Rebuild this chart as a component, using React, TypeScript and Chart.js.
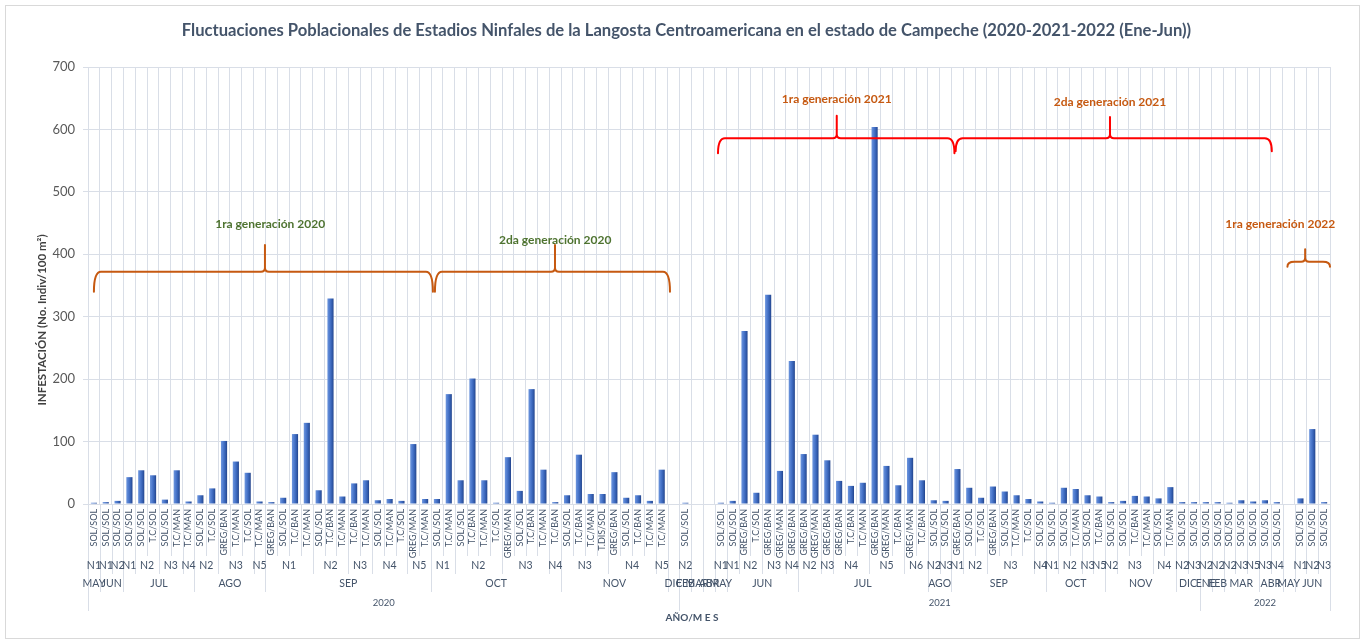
import React, { useEffect, useRef } from 'react';
import { Chart, registerables } from 'chart.js';

Chart.register(...registerables);

// ---------- DATA ----------
const stages = [
  'SOL/SOL', 'SOL/SOL', 'SOL/SOL',
  'SOL/SOL', 'SOL/SOL', 'T.C/SOL', 'SOL/SOL', 'T.C/MAN', 'T.C/MAN',
  'SOL/SOL', 'T.C/SOL', 'GREG/BAN', 'T.C/MAN', 'T.C/SOL', 'T.C/MAN',
  'GREG/BAN', 'SOL/SOL', 'T.C/BAN', 'T.C/MAN', 'SOL/SOL', 'T.C/BAN', 'T.C/MAN', 'T.C/BAN', 'T.C/MAN', 'SOL/SOL', 'T.C/MAN', 'T.C/SOL', 'GREG/MAN', 'T.C/MAN',
  'SOL/SOL', 'T.C/MAN', 'SOL/SOL', 'T.C/BAN', 'T.C/MAN', 'T.C/SOL', 'GREG/MAN', 'SOL/SOL', 'T.C/BAN', 'T.C/MAN', 'T.C/BAN',
  'SOL/SOL', 'T.C/BAN', 'T.C/MAN', 'T.DIS/SOL', 'GREG/BAN', 'SOL/SOL', 'T.C/BAN', 'T.C/MAN', 'T.C/MAN',
  '',
  'SOL/SOL', '', '', 'SOL/SOL',
  'SOL/SOL', 'GREG/BAN', 'T.C/SOL', 'GREG/BAN', 'GREG/MAN', 'GREG/BAN',
  'GREG/BAN', 'GREG/MAN', 'GREG/BAN', 'GREG/BAN', 'T.C/BAN', 'T.C/MAN', 'GREG/BAN', 'GREG/MAN', 'T.C/BAN', 'GREG/MAN', 'T.C/BAN',
  'SOL/SOL', 'SOL/SOL',
  'GREG/BAN', 'SOL/SOL', 'T.C/SOL', 'GREG/BAN', 'SOL/SOL', 'T.C/MAN', 'T.C/SOL', 'SOL/SOL',
  'SOL/SOL', 'SOL/SOL', 'T.C/MAN', 'SOL/SOL', 'T.C/BAN',
  'SOL/SOL', 'SOL/SOL', 'T.C/BAN', 'T.C/MAN', 'SOL/SOL', 'T.C/MAN',
  'SOL/SOL', 'SOL/SOL',
  'SOL/SOL', 'SOL/SOL', 'SOL/SOL', 'SOL/SOL', 'SOL/SOL', 'SOL/SOL', 'SOL/SOL', '', 'SOL/SOL', 'SOL/SOL', 'SOL/SOL',
];

const nLevels = [
  'N1', 'N1', 'N2',
  'N1', 'N2', 'N2', 'N3', 'N3', 'N4',
  'N2', 'N2', 'N3', 'N3', 'N3', 'N5',
  'N1', 'N1', 'N1', 'N1', 'N2', 'N2', 'N2', 'N3', 'N3', 'N4', 'N4', 'N4', 'N5', 'N5',
  'N1', 'N1', 'N2', 'N2', 'N2', 'N2', 'N3', 'N3', 'N3', 'N3', 'N4',
  'N3', 'N3', 'N3', 'N3', 'N4', 'N4', 'N4', 'N4', 'N5',
  '',
  'N2', '', '', 'N1',
  'N1', 'N2', 'N2', 'N3', 'N3', 'N4',
  'N2', 'N2', 'N3', 'N4', 'N4', 'N4', 'N5', 'N5', 'N5', 'N6', 'N6',
  'N2', 'N3',
  'N1', 'N2', 'N2', 'N3', 'N3', 'N3', 'N3', 'N4',
  'N1', 'N2', 'N2', 'N3', 'N5',
  'N2', 'N3', 'N3', 'N3', 'N4', 'N4',
  'N2', 'N3',
  'N2', 'N2', 'N2', 'N3', 'N5', 'N3', 'N4', '', 'N1', 'N2', 'N3',
];

const months = [
  'MAY', 'JUN', 'JUN',
  'JUL', 'JUL', 'JUL', 'JUL', 'JUL', 'JUL',
  'AGO', 'AGO', 'AGO', 'AGO', 'AGO', 'AGO',
  'SEP', 'SEP', 'SEP', 'SEP', 'SEP', 'SEP', 'SEP', 'SEP', 'SEP', 'SEP', 'SEP', 'SEP', 'SEP', 'SEP',
  'OCT', 'OCT', 'OCT', 'OCT', 'OCT', 'OCT', 'OCT', 'OCT', 'OCT', 'OCT', 'OCT',
  'NOV', 'NOV', 'NOV', 'NOV', 'NOV', 'NOV', 'NOV', 'NOV', 'NOV',
  'DIC',
  'FEB', 'MAR', 'ABR', 'MAY',
  'JUN', 'JUN', 'JUN', 'JUN', 'JUN', 'JUN',
  'JUL', 'JUL', 'JUL', 'JUL', 'JUL', 'JUL', 'JUL', 'JUL', 'JUL', 'JUL', 'JUL',
  'AGO', 'AGO',
  'SEP', 'SEP', 'SEP', 'SEP', 'SEP', 'SEP', 'SEP', 'SEP',
  'OCT', 'OCT', 'OCT', 'OCT', 'OCT',
  'NOV', 'NOV', 'NOV', 'NOV', 'NOV', 'NOV',
  'DIC', 'DIC',
  'ENE', 'FEB', 'MAR', 'MAR', 'MAR', 'ABR', 'ABR', 'MAY', 'JUN', 'JUN', 'JUN',
];

const years = [
  '2020', '2020', '2020', '2020', '2020', '2020', '2020', '2020', '2020', '2020',
  '2020', '2020', '2020', '2020', '2020', '2020', '2020', '2020', '2020', '2020',
  '2020', '2020', '2020', '2020', '2020', '2020', '2020', '2020', '2020', '2020',
  '2020', '2020', '2020', '2020', '2020', '2020', '2020', '2020', '2020', '2020',
  '2020', '2020', '2020', '2020', '2020', '2020', '2020', '2020', '2020', '2020',
  '2021', '2021', '2021', '2021', '2021', '2021', '2021', '2021', '2021', '2021',
  '2021', '2021', '2021', '2021', '2021', '2021', '2021', '2021', '2021', '2021',
  '2021', '2021', '2021', '2021', '2021', '2021', '2021', '2021', '2021', '2021',
  '2021', '2021', '2021', '2021', '2021', '2021', '2021', '2021', '2021', '2021',
  '2021', '2021', '2021', '2021',
  '2022', '2022', '2022', '2022', '2022', '2022', '2022', '2022', '2022', '2022', '2022',
];

const infestation = [
  2, 3, 5,
  43, 54, 46, 7, 54, 4,
  14, 25, 101, 68, 50, 4,
  3, 10, 112, 130, 22, 329, 12, 33, 38, 6, 8, 5, 96, 8,
  8, 176, 38, 201, 38, 2, 75, 21, 184, 55, 3,
  14, 79, 16, 16, 51, 10, 14, 5, 55,
  null,
  2, null, null, 2,
  5, 277, 18, 335, 53, 229,
  80, 111, 70, 37, 29, 34, 604, 61, 30, 74, 38,
  6, 5,
  56, 26, 10, 28, 20, 14, 8, 4,
  2, 26, 24, 14, 12,
  3, 5, 13, 12, 9, 27,
  3, 3,
  3, 3, 2, 6, 4, 6, 3, null, 9, 120, 3,
];

const yTicks = [0, 100, 200, 300, 400, 500, 600, 700];

const TITLE = 'Fluctuaciones Poblacionales de Estadios Ninfales de la Langosta Centroamericana en el estado de Campeche (2020-2021-2022 (Ene-Jun))';
const Y_TITLE = 'INFESTACIÓN (No. Indiv/100 m²)';
const X_TITLE = 'AÑO/M E S';

// ---------- STYLE / ANNOTATIONS ----------
const FONT = 'Lato, "Open Sans", sans-serif';
const GRID = '#D9DEE7';
const TEXT = '#44546A';
const ORANGE = '#C65911';
const RED = '#FF0000';
const GREEN = '#4E7330';

// braces in data space: category index range, tip index, baseline / end / tip values
const braces = [
  { from: 0, to: 28.66, tip: 14.46, base: 372, end: 340, top: 415, color: ORANGE },
  { from: 28.83, to: 48.7, tip: 38.98, base: 372, end: 340, top: 415, color: ORANGE },
  { from: 52.76, to: 72.75, tip: 62.8, base: 586, end: 562, top: 622, color: RED },
  { from: 72.85, to: 99.58, tip: 85.9, base: 586, end: 565, top: 620, color: RED },
  { from: 100.9, to: 104.5, tip: 102.4, base: 388, end: 380, top: 408, color: ORANGE },
];

const notes = [
  { text: '1ra generación 2020', at: 14.9, value: 449, color: GREEN },
  { text: '2da generación 2020', at: 39.0, value: 423, color: GREEN },
  { text: '1ra generación 2021', at: 62.8, value: 649, color: ORANGE },
  { text: '2da generación 2021', at: 85.9, value: 643, color: ORANGE },
  { text: '1ra generación 2022', at: 100.3, value: 449, color: ORANGE },
];

const decorPlugin = {
  id: 'decor',
  beforeDraw(chart: any) {
    const { ctx, width, height } = chart;
    ctx.save();
    ctx.fillStyle = '#ffffff';
    ctx.fillRect(0, 0, width, height);
    ctx.strokeStyle = '#D9D9D9';
    ctx.lineWidth = 1;
    ctx.strokeRect(5.5, 5.5, width - 11, height - 11);
    ctx.restore();
  },
  afterDatasetsDraw(chart: any) {
    const { ctx, scales } = chart;
    const x = scales.x;
    const y = scales.y;
    ctx.save();
    ctx.lineWidth = 2;
    ctx.lineJoin = 'round';
    ctx.lineCap = 'round';
    braces.forEach((b) => {
      const x0 = x.getPixelForValue(b.from);
      const x1 = x.getPixelForValue(b.to);
      const xt = x.getPixelForValue(b.tip);
      const yb = y.getPixelForValue(b.base);
      const ye = y.getPixelForValue(b.end);
      const yt = y.getPixelForValue(b.top);
      const r = Math.min(7, (x1 - x0) / 4);
      const r2 = 4;
      ctx.strokeStyle = b.color;
      ctx.beginPath();
      ctx.moveTo(x0, ye);
      ctx.quadraticCurveTo(x0, yb, x0 + r, yb);
      ctx.lineTo(xt - r2, yb);
      ctx.quadraticCurveTo(xt, yb, xt, yb - r2);
      ctx.lineTo(xt, yt);
      ctx.moveTo(xt, yb - r2);
      ctx.quadraticCurveTo(xt, yb, xt + r2, yb);
      ctx.lineTo(x1 - r, yb);
      ctx.quadraticCurveTo(x1, yb, x1, ye);
      ctx.stroke();
    });
    ctx.font = `bold 12px ${FONT}`;
    ctx.textAlign = 'center';
    ctx.textBaseline = 'middle';
    notes.forEach((n) => {
      ctx.fillStyle = n.color;
      ctx.fillText(n.text, x.getPixelForValue(n.at), y.getPixelForValue(n.value));
    });
    ctx.restore();
  },
  afterDraw(chart: any) {
    const { ctx, scales, chartArea, width } = chart;
    const x = scales.x;
    const n = stages.length;
    const edge = (i: number) => x.getPixelForValue(i - 0.5);
    const base = chartArea.bottom;
    const catBottom = base + 52;
    const nBottom = base + 70;
    const monthBottom = base + 88;
    const yearBottom = base + 107;

    ctx.save();
    ctx.strokeStyle = GRID;
    ctx.lineWidth = 1;
    for (let i = 0; i <= n; i++) {
      let bottom = catBottom;
      if (i === 0 || i === n || years[i] !== years[i - 1]) bottom = yearBottom;
      else if (months[i] !== months[i - 1]) bottom = monthBottom;
      else if (nLevels[i] !== nLevels[i - 1]) bottom = nBottom;
      const px = Math.round(edge(i)) + 0.5;
      ctx.beginPath();
      ctx.moveTo(px, base);
      ctx.lineTo(px, bottom);
      ctx.stroke();
    }

    const runs = (key: (i: number) => string) => {
      const out: [number, number][] = [];
      let start = 0;
      for (let i = 1; i <= n; i++) {
        if (i === n || key(i) !== key(start)) {
          out.push([start, i - 1]);
          start = i;
        }
      }
      return out;
    };
    const drawRow = (labels: string[], key: (i: number) => string, yPix: number, font: string) => {
      ctx.font = font;
      ctx.fillStyle = TEXT;
      ctx.textAlign = 'center';
      ctx.textBaseline = 'middle';
      runs(key).forEach(([a, b]) => {
        const label = labels[a];
        if (!label) return;
        ctx.fillText(label, (edge(a) + edge(b + 1)) / 2, yPix);
      });
    };
    drawRow(nLevels, (i) => `${years[i]}|${months[i]}|${nLevels[i]}`, base + 62, `10.5px ${FONT}`);
    drawRow(months, (i) => `${years[i]}|${months[i]}`, base + 80, `10.5px ${FONT}`);
    drawRow(years, (i) => years[i], base + 99, `9.5px ${FONT}`);

    // axis titles
    ctx.fillStyle = TEXT;
    ctx.font = `bold 10px ${FONT}`;
    ctx.fillText(X_TITLE, 692, base + 114);

    ctx.save();
    ctx.translate(42, 320);
    ctx.rotate(-Math.PI / 2);
    ctx.font = `bold 11.5px ${FONT}`;
    ctx.fillStyle = '#404040';
    ctx.fillText(Y_TITLE, 0, 0);
    ctx.restore();

    // chart title
    ctx.font = `bold 16.6px ${FONT}`;
    ctx.fillStyle = TEXT;
    ctx.fillText(TITLE, width / 2 + 4, 31);
    ctx.restore();
  },
};

export default function App() {
  const canvasRef = useRef<HTMLCanvasElement | null>(null);

  useEffect(() => {
    if (!canvasRef.current) return;
    const chart = new Chart(canvasRef.current, {
      type: 'bar',
      data: {
        labels: stages,
        datasets: [
          {
            label: 'Infestación',
            data: infestation,
            barPercentage: 0.52,
            categoryPercentage: 1,
            backgroundColor: (c: any) => {
              const ch = c.chart;
              const xs = ch.scales && ch.scales.x;
              if (!xs || c.dataIndex === undefined) return '#4472C4';
              const cx = xs.getPixelForValue(c.dataIndex);
              const w = Math.abs(xs.getPixelForValue(1) - xs.getPixelForValue(0)) * 0.52;
              if (!isFinite(cx) || !isFinite(w) || w <= 0) return '#4472C4';
              const g = ch.ctx.createLinearGradient(cx - w / 2, 0, cx + w / 2, 0);
              g.addColorStop(0, '#6D96DE');
              g.addColorStop(0.45, '#4673C9');
              g.addColorStop(0.8, '#2F58A8');
              g.addColorStop(1, '#22428A');
              return g;
            },
            borderWidth: 0,
          },
        ],
      },
      options: {
        animation: false,
        responsive: true,
        maintainAspectRatio: false,
        layout: { padding: { top: 67, left: 10, right: 35, bottom: 10 } },
        plugins: {
          legend: { display: false },
          tooltip: { enabled: false },
          title: { display: false },
        },
        scales: {
          x: {
            type: 'category',
            offset: true,
            grid: { display: true, color: GRID, drawTicks: false, offset: true },
            border: { display: false },
            ticks: {
              autoSkip: false,
              minRotation: 90,
              maxRotation: 90,
              padding: 5,
              color: TEXT,
              font: { family: FONT, size: 9 },
              callback: (_v: any, i: number) => stages[i],
            },
            afterFit: (scale: any) => {
              scale.height = 130;
            },
          },
          y: {
            min: 0,
            max: 700,
            afterBuildTicks: (scale: any) => {
              scale.ticks = yTicks.map((v) => ({ value: v }));
            },
            grid: { color: GRID, tickLength: 5, drawTicks: true },
            border: { display: false },
            ticks: {
              padding: 8,
              color: '#595959',
              font: { family: FONT, size: 13 },
            },
            afterFit: (scale: any) => {
              scale.width = 78;
            },
          },
        },
      },
      plugins: [decorPlugin],
    });
    return () => chart.destroy();
  }, []);

  return (
    <div style={{ position: 'fixed', left: 0, top: 0, width: 1365, height: 644, background: '#fff' }}>
      <canvas ref={canvasRef} />
    </div>
  );
}
